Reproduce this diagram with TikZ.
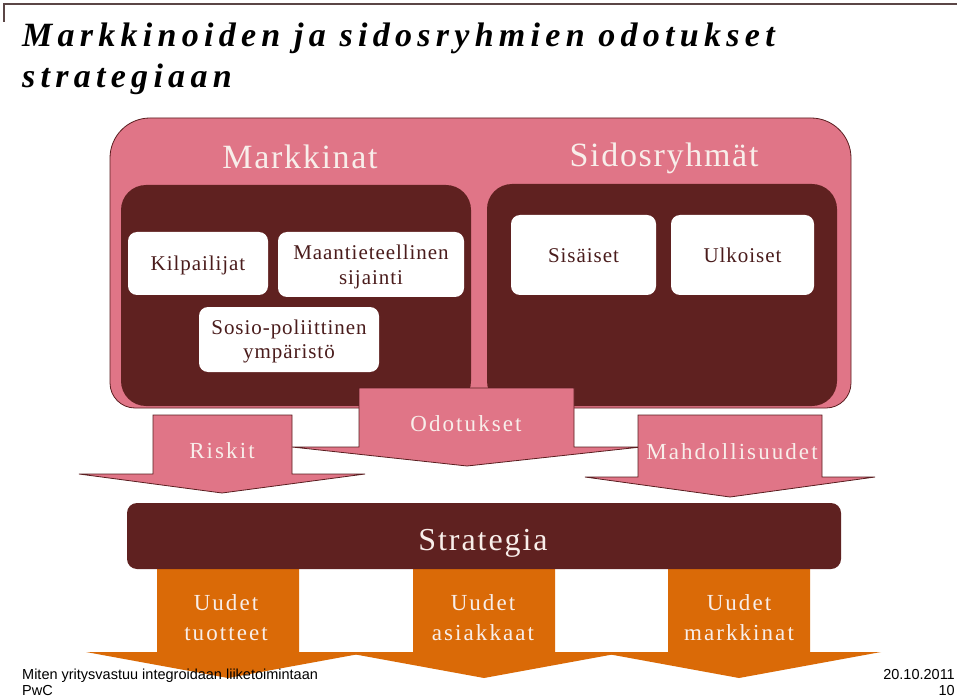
\documentclass[tikz,border=0pt]{standalone}
\usepackage{fontspec}
\setmainfont{Liberation Serif}
\newfontfamily\footf{Liberation Sans}
\newcommand{\lsp}[1]{\addfontfeature{LetterSpace=#1}}
\definecolor{pinkc}{HTML}{E07587}
\definecolor{darkc}{HTML}{5F2120}
\definecolor{edgec}{HTML}{5A1E20}
\definecolor{orangec}{HTML}{DA6A07}
\definecolor{lightc}{HTML}{F8EEEA}
\definecolor{boxtext}{HTML}{4A1C1C}
\definecolor{linec}{HTML}{5B4646}
\tikzset{
  pinkbox/.style={fill=pinkc, draw=edgec, line width=0.8pt},
  darkbox/.style={fill=darkc},
  whitebox/.style={fill=white, draw=none, rounded corners=9pt, inner sep=0pt},
  pinkarrow/.style={fill=pinkc, draw=edgec, line width=0.8pt, line join=miter},
  orangearrow/.style={fill=orangec},
  titletext/.style={inner sep=0pt, anchor=base west, font=\fontsize{34}{40}\selectfont\bfseries\itshape\lsp{15.5}},
  headtext/.style={inner sep=0pt, anchor=base, text=lightc, font=\fontsize{34}{40}\selectfont\lsp{5}},
  boxlabel/.style={inner sep=0pt, anchor=base, text=boxtext, font=\fontsize{21}{25}\selectfont\lsp{4.5}},
  arrowlabel/.style={inner sep=0pt, anchor=base, text=lightc, font=\fontsize{23}{27}\selectfont\lsp{9}},
  foottext/.style={inner sep=0pt, font=\fontsize{14.5}{17}\footf},
}
\begin{document}
\begin{tikzpicture}[x=1pt,y=-1pt]
\useasboundingbox (0,0) rectangle (960,700);
\fill[white] (0,0) rectangle (960,700);
% top rule
\draw[linec, line width=1.4pt] (4,22) -- (4,4) -- (957,4);
% title
\node[titletext] (title1) at (22,47) {Markkinoiden ja sidosryhmien odotukset};
\node[titletext] (title2) at (22,88) {strategiaan};
% outer pink box
\draw[pinkbox] (110,250) [rounded corners=40pt] -- (110,118) -- (851,118) -- (851,250)
   [rounded corners=25pt] -- (851,408) -- (110,408) -- cycle;
% dark inner boxes
\fill[darkbox, rounded corners=25pt] (121,185) rectangle (471,406);
\fill[darkbox, rounded corners=25pt] (487,184) rectangle (837,406);
\node[headtext] (markkinat) at (300,169) {Markkinat};
\node[headtext] (sidos) at (664,167) {Sidosryhmät};
% white boxes
\node[whitebox, minimum width=140pt, minimum height=63pt] (kilbox) at (198,263.5) {};
\node[whitebox, minimum width=186pt, minimum height=65pt] (maabox) at (371,264.5) {};
\node[whitebox, minimum width=180pt, minimum height=65pt] (sosbox) at (289,339.5) {};
\node[whitebox, minimum width=145pt, minimum height=80pt] (sisbox) at (583.5,255) {};
\node[whitebox, minimum width=143pt, minimum height=80pt] (ulkbox) at (742.5,255) {};
\node[boxlabel] (kil) at (kilbox.center |- 0,271) {Kilpailijat};
\node[boxlabel] (maa1) at (maabox.center |- 0,260) {Maantieteellinen};
\node[boxlabel] (maa2) at (maabox.center |- 0,285) {sijainti};
\node[boxlabel] (sos1) at (sosbox.center |- 0,334) {Sosio-poliittinen};
\node[boxlabel] (sos2) at (sosbox.center |- 0,358) {ympäristö};
\node[boxlabel] (sis) at (sisbox.center |- 0,263) {Sisäiset};
\node[boxlabel] (ulk) at (ulkbox.center |- 0,263) {Ulkoiset};
% pink block arrows
\draw[pinkarrow] (359,388) -- (574,388) -- (574,447) -- (641,447) -- (467,466) -- (292,447) -- (359,447) -- cycle;
\draw[pinkarrow] (153,415) -- (292,415) -- (292,474) -- (365,474) -- (222,493) -- (79,474) -- (153,474) -- cycle;
\draw[pinkarrow] (638,415) -- (822,415) -- (822,477) -- (875,477) -- (730,497) -- (585,477) -- (638,477) -- cycle;
\node[arrowlabel] (riskit) at (222,458) {Riskit};
\node[arrowlabel] (odot) at (466,431) {Odotukset};
\node[arrowlabel] (mahd) at (732,459) {Mahdollisuudet};
% orange arrows
\foreach \cx in {228,484,739}{
  \fill[orangearrow] (\cx-71,565) -- (\cx+71,565) -- (\cx+71,652) -- (\cx+142,652) -- (\cx,678) -- (\cx-142,652) -- (\cx-71,652) -- cycle;
}
% strategia bar
\node[fill=darkc, rounded corners=10pt, minimum width=714pt, minimum height=66pt, inner sep=0pt] (strat) at (484,536) {};
\node[inner sep=0pt, anchor=base, text=lightc, font=\fontsize{32}{38}\selectfont\lsp{6}] (stratlabel) at (483,550) {Strategia};
\node[arrowlabel] (u1a) at (226,610) {Uudet};
\node[arrowlabel] (u1b) at (226,640) {tuotteet};
\node[arrowlabel] (u2a) at (483,610) {Uudet};
\node[arrowlabel] (u2b) at (483,640) {asiakkaat};
\node[arrowlabel] (u3a) at (739,610) {Uudet};
\node[arrowlabel] (u3b) at (739,640) {markkinat};
% footer
\node[foottext, anchor=base west] (foot1) at (22,679) {Miten yritysvastuu integroidaan liiketoimintaan};
\node[foottext, anchor=base west] (foot2) at (22,695) {PwC};
\node[foottext, anchor=base east] (date) at (955,679) {20.10.2011};
\node[foottext, anchor=base east] (page) at (955,695) {10};
\end{tikzpicture}
\end{document}
